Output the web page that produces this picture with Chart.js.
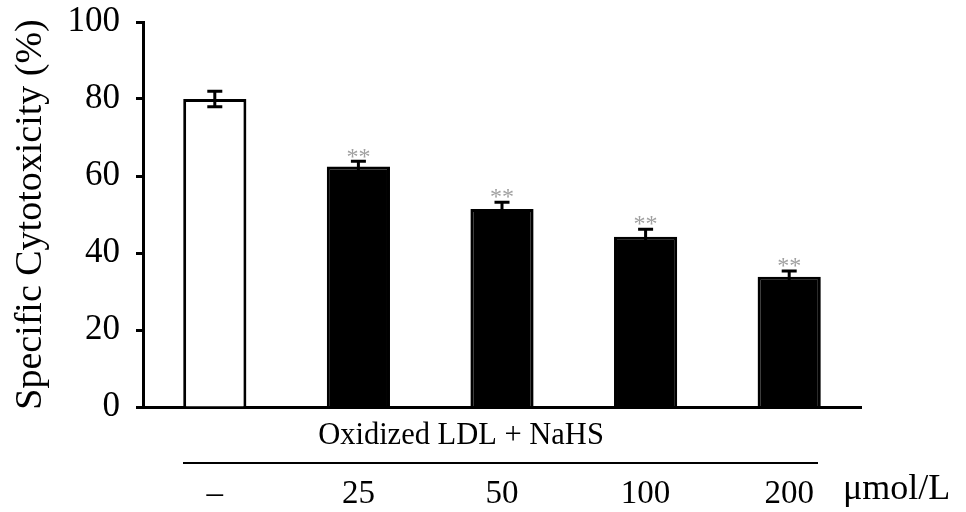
<!DOCTYPE html>
<html>
<head>
<meta charset="utf-8">
<script src="https://cdn.jsdelivr.net/npm/chart.js@4"></script>
<style>
  html, body { margin: 0; padding: 0; background: #fff; }
  #wrap { width: 966px; height: 512px; }
</style>
</head>
<body>
<div id="wrap"><canvas id="myChart" width="966" height="512"></canvas></div>
<script>
// dati
const groups = ['\u2013', '25', '50', '100', '200'];
const cytotoxicity = [80, 62.5, 51.4, 44.2, 33.8];
const errors = [2, 1.3, 1.8, 2, 1.5];
const significance = ['', '**', '**', '**', '**'];
const yTicks = [0, 20, 40, 60, 80, 100];
const groupLabel = 'Oxidized LDL + NaHS';
const unitLabel = '\u03bcmol/L';

const serif = '"Liberation Serif", "DejaVu Serif", serif';

// barre d'errore + asterischi sopra le barre
const errorBars = {
    id: 'errorBars',
    afterDatasetsDraw(chart) {
        const ctx = chart.ctx;
        const meta = chart.getDatasetMeta(0);
        const y = chart.scales.y;
        ctx.save();
        meta.data.forEach((bar, i) => {
            const x = bar.x;
            const top = y.getPixelForValue(cytotoxicity[i] + errors[i]);
            const bottom = y.getPixelForValue(cytotoxicity[i] - errors[i]);
            ctx.strokeStyle = '#000';
            ctx.lineWidth = 3;
            ctx.beginPath();
            ctx.moveTo(x, top);
            ctx.lineTo(x, bottom);
            ctx.moveTo(x - 7.5, top);
            ctx.lineTo(x + 7.5, top);
            ctx.moveTo(x - 7.5, bottom);
            ctx.lineTo(x + 7.5, bottom);
            ctx.stroke();
            if (significance[i]) {
                ctx.fillStyle = '#a0a0a0';
                ctx.font = '24px ' + serif;
                ctx.textAlign = 'center';
                ctx.textBaseline = 'bottom';
                ctx.fillText(significance[i], x, top + 8);
            }
        });
        ctx.restore();
    },
    afterDraw(chart) {
        const ctx = chart.ctx;
        ctx.save();
        ctx.fillStyle = '#000';
        ctx.font = '30.5px ' + serif;
        ctx.textAlign = 'center';
        ctx.textBaseline = 'middle';
        ctx.fillText(groupLabel, 461, 436);
        ctx.strokeStyle = '#000';
        ctx.lineWidth = 2;
        ctx.beginPath();
        ctx.moveTo(183, 463);
        ctx.lineTo(818, 463);
        ctx.stroke();
        ctx.font = '36px ' + serif;
        ctx.textAlign = 'left';
        ctx.fillText(unitLabel, 843, 490);
        ctx.restore();
    }
};

const ctx = document.getElementById('myChart').getContext('2d');
const myChart = new Chart(ctx, {
    type: 'bar',
    data: {
        labels: groups,
        datasets: [{
            data: cytotoxicity,
            backgroundColor: groups.map((g, i) => i == 0 ? '#fff' : '#000'),
            borderColor: '#000',
            borderWidth: 3,
            borderSkipped: 'bottom',
            barPercentage: 0.44,
            categoryPercentage: 1,
        }]
    },
    options: {
        responsive: false,
        animation: false,
        layout: {
            padding: { top: 22, right: 105, bottom: 0, left: 0 }
        },
        plugins: {
            legend: { display: false },
            tooltip: { enabled: false },
        },
        scales: {
            x: {
                grid: { display: false },
                border: { display: true, color: '#000', width: 3 },
                ticks: {
                    color: '#000',
                    font: { family: serif, size: 33 },
                    padding: 60,
                },
                afterFit: (scale) => {
                    scale.height = 105;
                    scale.paddingLeft = 0;
                    scale.paddingRight = 0;
                },
            },
            y: {
                min: 0,
                max: 100,
                afterBuildTicks: (scale) => { scale.ticks = yTicks.map(v => ({ value: v })); },
                grid: {
                    drawOnChartArea: false,
                    drawTicks: true,
                    tickLength: 7,
                    tickWidth: 3,
                    tickColor: '#000',
                },
                border: { display: true, color: '#000', width: 3 },
                ticks: {
                    color: '#000',
                    font: { family: serif, size: 35 },
                    padding: 16,
                },
                title: {
                    display: true,
                    text: 'Specific Cytotoxicity (%)',
                    color: '#000',
                    font: { family: serif, size: 38 },
                    padding: { top: 8, bottom: 0 },
                },
                afterFit: (scale) => {
                    scale.width = 143;
                    // niente padding extra per le etichette, l'area del grafico la fisso io
                    scale.paddingTop = 0;
                    scale.paddingBottom = 0;
                },
            }
        }
    },
    plugins: [errorBars]
});
</script>
</body>
</html>
